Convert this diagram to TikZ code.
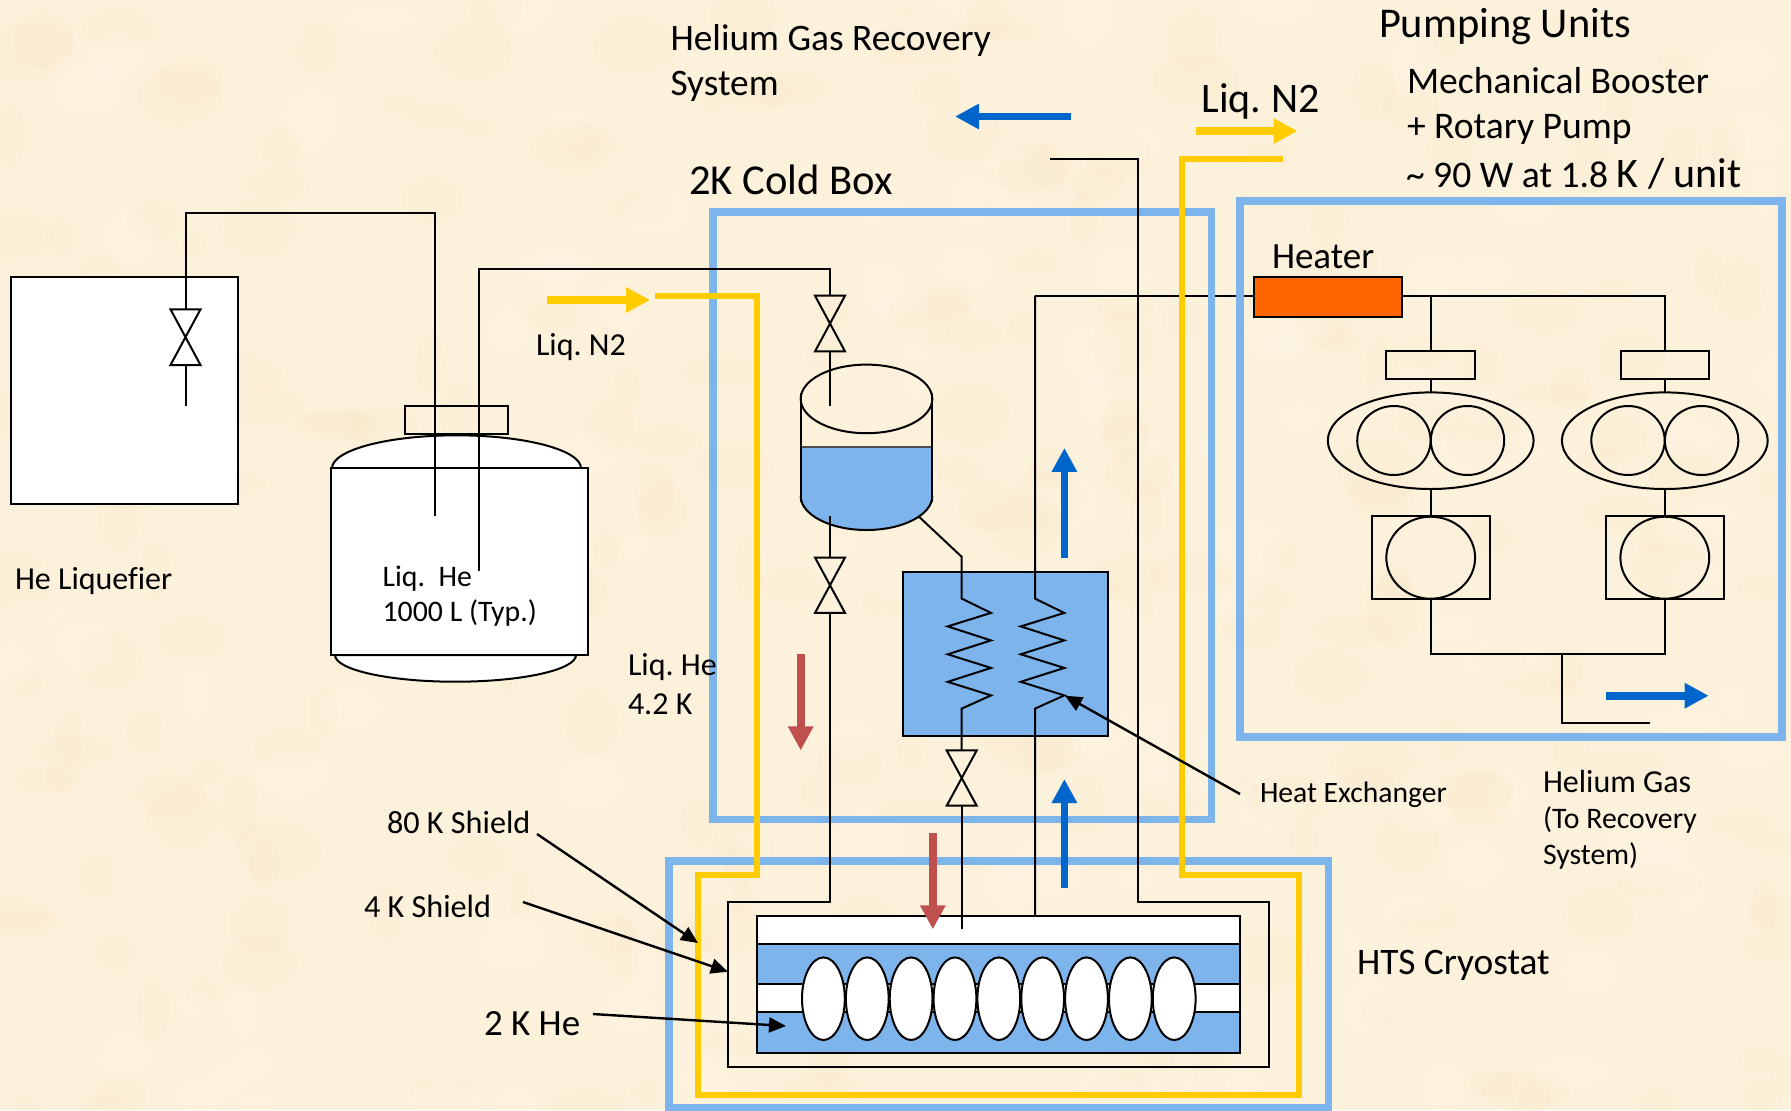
\documentclass[tikz,border=0pt]{standalone}
\usepackage{fontspec}
\setmainfont{Carlito}[Ligatures=NoCommon]
\usetikzlibrary{arrows.meta,shapes.geometric}
\definecolor{parch}{HTML}{FCF1DB}
\definecolor{blot}{HTML}{F8E4B8}
\definecolor{blotb}{HTML}{FFF8EC}
\definecolor{liqblue}{HTML}{7DB4EC}
\definecolor{flowblue}{HTML}{0066CC}
\definecolor{flowred}{HTML}{C0504D}
\definecolor{nyellow}{HTML}{FFCC00}
\definecolor{heat}{HTML}{FF6600}
\tikzset{
  pipe/.style={draw=black,line width=1pt,line join=miter},
  boxs/.style={draw=black,line width=1pt,rectangle,inner sep=0pt,outer sep=0pt},
  ell/.style={draw=black,line width=1pt,ellipse,inner sep=0pt,outer sep=0pt},
  frame/.style={draw=liqblue,line width=3.7pt},
  nline/.style={draw=nyellow,line width=3.1pt,line join=miter},
  flowb/.style={draw=flowblue,line width=3.9pt,-{Triangle[length=12pt,width=12pt,fill=flowblue]}},
  flowr/.style={draw=flowred,line width=3.9pt,-{Triangle[length=12pt,width=12pt,fill=flowred]}},
  flowy/.style={draw=nyellow,line width=3.9pt,-{Triangle[length=12pt,width=12pt,fill=nyellow]}},
  leader/.style={draw=black,line width=1.2pt,-{Triangle[length=8.5pt,width=7.5pt]}},
  lbl/.style={anchor=base west,inner sep=0pt,outer sep=0pt,align=left,text=black},
}
\newcommand{\fs}[1]{\fontsize{#1}{#1}\selectfont}
% valve: #1 centre x, #2 top y, #3 bottom y
\newcommand{\valve}[3]{\draw[pipe,line join=miter] (#1-15,#2) -- (#1+15,#2) -- (#1-15,#3) -- (#1+15,#3) -- cycle;}
\frenchspacing
\begin{document}
\begin{tikzpicture}[x=.5pt,y=-.5pt]
\useasboundingbox (0,0) rectangle (1791,1110);
\clip (0,0) rectangle (1791,1110);
\fill[parch] (0,0) rectangle (1791,1110);
\pgfmathsetseed{42}
\foreach \i in {1,...,260}{
  \pgfmathsetmacro{\bx}{rnd*1791}
  \pgfmathsetmacro{\by}{rnd*1110}
  \pgfmathsetmacro{\brx}{6+rnd*16}
  \pgfmathsetmacro{\bry}{5+rnd*12}
  \fill[blot,opacity=.1] (\bx,\by) ellipse [x radius=\brx pt,y radius=\bry pt];
}
\foreach \i in {1,...,120}{
  \pgfmathsetmacro{\bx}{rnd*1791}
  \pgfmathsetmacro{\by}{rnd*1110}
  \pgfmathsetmacro{\brx}{6+rnd*14}
  \pgfmathsetmacro{\bry}{5+rnd*10}
  \fill[blotb,opacity=.16] (\bx,\by) ellipse [x radius=\brx pt,y radius=\bry pt];
}

% ---- heater and its feed line, under the frames
\node (heater) [boxs,fill=heat,minimum width=73.7pt,minimum height=20.15pt] at (1328,296.85) {};
\coordinate (heatIn) at (1035,295.7);
\draw[pipe] (heatIn) -- (heater.west |- heatIn);

% ---- frames
\draw[frame] (713,212) rectangle (1211.5,819.6);
\draw[frame] (1240,201) rectangle (1782,737);
\draw[frame] (669,861) rectangle (1328.5,1108);

% ---- He liquefier
\node (liq) [boxs,fill=white,minimum width=113.5pt,minimum height=113.5pt] at (124.15,390.2) {};
% ---- storage tank
\draw[pipe,fill=white] (332,468.3) arc [start angle=180,end angle=0,x radius=62.25pt,y radius=16.5pt] -- cycle;
\draw[pipe,fill=white] (335,655) arc [start angle=180,end angle=360,x radius=60.25pt,y radius=13.35pt] -- cycle;
\node (tank) [boxs,fill=white,minimum width=128.7pt,minimum height=93.35pt] at (459.7,561.65) {};
\node (cap) [boxs,minimum width=51.35pt,minimum height=14.15pt] at (456.65,420.15) {};

\coordinate (liqtop) at (185.5,213.3);
\coordinate (tanktop) at (435,213.3);
\coordinate (dipA) at (435,516);
\coordinate (liqvT) at (185.5,309.3);
\coordinate (liqvB) at (185.5,365);
\coordinate (liqEnd) at (185.5,406);
\draw[pipe] (dipA) -- (tanktop) -- (liqtop) -- (liqvT);
\draw[pipe] (liqvB) -- (liqEnd);
\valve{185.5}{309.3}{365}

% ---- HX box
\node (hx) [boxs,fill=liqblue,minimum width=102.5pt,minimum height=82.3pt] at (1005.8,654.1) {};

% ---- helium vessel
\fill[liqblue] (800.7,447) -- (932.3,447) -- (932.3,496) arc [start angle=360,end angle=180,x radius=32.9pt,y radius=17pt] -- cycle;
\draw[black!70,line width=.7pt] (800.7,447) -- (932.3,447);
\draw[pipe] (800.7,393) -- (800.7,502);
\draw[pipe] (932.3,393) -- (932.3,502);
\draw[pipe] (800.7,496) arc [start angle=180,end angle=360,x radius=32.9pt,y radius=17pt];
\node (vtop) [ell,minimum width=65.8pt,minimum height=34.3pt] at (866.5,398.9) {};

% ---- liquid helium supply
\coordinate (dipB) at (478.8,571);
\coordinate (supTop) at (478.8,268.7);
\coordinate (supCorner) at (830,268.7);
\coordinate (v1T) at (830,295.7);
\coordinate (v1B) at (830,351.4);
\coordinate (v1End) at (830,405.7);
\draw[pipe] (dipB) -- (supTop) -- (supCorner) -- (v1T);
\draw[pipe] (v1B) -- (v1End);
\valve{830}{295.7}{351.4}

\coordinate (v2Start) at (830,516.4);
\coordinate (v2T) at (830,557.5);
\coordinate (v2B) at (830,612.9);
\valve{830}{557.5}{612.9}
\draw[pipe] (v2Start) -- (v2T);

% ---- cryostat
\node (tube) [boxs,fill=white,minimum width=241.75pt,minimum height=14pt] at (998.65,929.7) {};
\node (bath) [boxs,fill=liqblue,minimum width=241.75pt,minimum height=54.8pt] at (998.65,998.5) {};
\node (beam) [boxs,fill=white,minimum width=241.75pt,minimum height=14pt] at (998.65,998.3) {};
\foreach \n in {0,...,8}{
  \node (cav\n) [ell,fill=white,minimum width=21.4pt,minimum height=41.3pt] at ({823.4+43.85*\n},998.7) {};
}
\coordinate (shA) at (830,902);
\coordinate (shB) at (727.9,902);
\coordinate (shC) at (727.9,1066.7);
\coordinate (shD) at (1269.4,1066.7);
\coordinate (shE) at (1269.4,902);
\coordinate (shF) at (1137.7,902);
\coordinate (retTop) at (1137.7,158.8);
\coordinate (retEnd) at (1050,158.8);
\draw[pipe] (v2B) -- (shA) -- (shB) -- (shC) -- (shD) -- (shE) -- (shF) -- (retTop) -- (retEnd);

% ---- nitrogen lines
\coordinate (nA) at (654.5,295.8);
\coordinate (nB) at (1283,158.8);
\draw[nline] (nA) -- (756.9,295.8) -- (756.9,875) -- (698,875) -- (698,1095) -- (1299.3,1095) -- (1299.3,875) -- (1182.3,875) -- (1182.3,158.8) -- (nB);

% ---- heat exchanger coils
\coordinate (hxIn) at (919.3,517);
\coordinate (hxBend) at (961.7,556.8);
\draw[pipe] (hxIn) -- (hxBend) -- (961.7,598.6) -- (991,612.9) -- (947.7,626.4) -- (991,640.4) -- (947.7,654.3) -- (991,667.9) -- (947.7,681.8) -- (991,695.4) -- (961.7,708.6) -- (961.7,750.4);
\valve{961.7}{750.4}{805.7}
\coordinate (pipeCend) at (961.7,929.3);
\draw[pipe] (961.7,805.7) -- (pipeCend);
\coordinate (heatLow) at (1035,915.7);
\draw[pipe] (heatLow) -- (1035,708.6) -- (1064.3,695.4) -- (1020.7,681.8) -- (1064.3,667.9) -- (1020.7,654.3) -- (1064.3,640.4) -- (1020.7,626.4) -- (1064.3,612.9) -- (1035,598.6) -- (heatIn);

% ---- pump units
\coordinate (busR) at (1664.7,296);
\draw[pipe] (heater.east |- busR) -- (busR) -- (1664.7,350.7);
\draw[pipe] (1430.7,296) -- (1430.7,350.7);

\foreach \dx/\nm in {0/a,234.1/b}{
  \node (fil\nm) [boxs,minimum width=44.3pt,minimum height=14pt] at ({1430.7+\dx},364.7) {};
  \node (roots\nm) [ell,minimum width=102.9pt,minimum height=48.3pt] at ({1430.7+\dx},440.7) {};
  \node (lobeA\nm) [ell,minimum width=36.7pt,minimum height=34.5pt] at ({1393.9+\dx},440.5) {};
  \node (lobeB\nm) [ell,minimum width=36.7pt,minimum height=34.5pt] at ({1467.5+\dx},440.5) {};
  \node (rotbox\nm) [boxs,minimum width=59pt,minimum height=41.5pt] at ({1430.7+\dx},557.7) {};
  \node (rotor\nm) [ell,minimum width=44.4pt,minimum height=41pt] at ({1430.7+\dx},557.7) {};
  \draw[pipe] (fil\nm.south) -- (roots\nm.north);
  \draw[pipe] (roots\nm.south) -- (rotbox\nm.north);
}
\coordinate (exA) at (1430.7,654.3);
\coordinate (exB) at (1664.8,654.3);
\coordinate (exJ) at (1562.4,654.3);
\coordinate (exK) at (1562.4,722.7);
\coordinate (exL) at (1650.4,722.7);
\draw[pipe] (rotboxa.south) -- (exA) -- (exB) -- (rotboxb.south);
\draw[pipe] (exJ) -- (exK) -- (exL);

% ---- flow arrows
\coordinate (f1a) at (1071,116.5); \coordinate (f1b) at (955,116.5);
\coordinate (f2a) at (1196,131); \coordinate (f2b) at (1297.5,131);
\coordinate (f3a) at (547,300); \coordinate (f3b) at (650,300);
\coordinate (f4a) at (1064.4,557.5); \coordinate (f4b) at (1064.4,447.9);
\coordinate (f5a) at (1064.4,888); \coordinate (f5b) at (1064.4,779);
\coordinate (f6a) at (800.7,654.3); \coordinate (f6b) at (800.7,750.4);
\coordinate (f7a) at (932.8,833.3); \coordinate (f7b) at (932.8,929.3);
\coordinate (f8a) at (1606.4,695.7); \coordinate (f8b) at (1708.7,695.7);
\draw[flowb] (f1a) -- (f1b);
\draw[flowy] (f2a) -- (f2b);
\draw[flowy] (f3a) -- (f3b);
\draw[flowb] (f4a) -- (f4b);
\draw[flowb] (f5a) -- (f5b);
\draw[flowr] (f6a) -- (f6b);
\draw[flowr] (f7a) -- (f7b);
\draw[flowb] (f8a) -- (f8b);

% ---- leaders
\coordinate (l1a) at (1240,794); \coordinate (l1b) at (1065,695.7);
\coordinate (l2a) at (537,834); \coordinate (l2b) at (698,943);
\coordinate (l3a) at (523,902); \coordinate (l3b) at (727.9,971.7);
\coordinate (l4a) at (593,1014); \coordinate (l4b) at (786,1026);
\draw[leader] (l1a) -- (l1b);
\draw[leader] (l2a) -- (l2b);
\draw[leader] (l3a) -- (l3b);
\draw[leader] (l4a) -- (l4b);

% ---- text
\node (tPump) [lbl,font=\fs{21.2}] at (1379,37) {Pumping Units};
\node (tMech) [lbl,font=\fs{18.8}] at (1407,93) {Mechanical Booster};
\node (tRot) [lbl,font=\fs{18.8}] at (1407,138) {+ Rotary Pump};
\node (tNinety) [lbl,font=\fs{18.8}] at (1406,187) {\textasciitilde{} 90 W at 1.8 {\fs{21}K / unit}};
\node (tHeRec) [lbl,font=\fs{18.7}] at (670.5,50) {Helium Gas Recovery};
\node (tSys) [lbl,font=\fs{18.7}] at (670.5,95) {System};
\node (tN2a) [lbl,font=\fs{21}] at (1201.6,112) {Liq. N2};
\node (tCold) [lbl,font=\fs{21.3}] at (689,194) {2K Cold Box};
\node (tHeat) [lbl,font=\fs{18.5}] at (1272,268) {Heater};
\node (tN2b) [lbl,font=\fs{16}] at (536,355) {Liq. N2};
\node (tLHe) [lbl,font=\fs{16}] at (628,675) {Liq. He};
\node (tLHeT) [lbl,font=\fs{16}] at (628,714) {4.2 K};
\node (tHX) [lbl,font=\fs{14.8}] at (1260,802) {Heat Exchanger};
\node (tHG) [lbl,font=\fs{16}] at (1543,792) {Helium Gas};
\node (tTR) [lbl,font=\fs{14.9}] at (1543,828) {(To Recovery};
\node (tSy2) [lbl,font=\fs{14.9}] at (1543,864) {System)};
\node (tHTS) [lbl,font=\fs{18.7}] at (1357,974) {HTS Cryostat};
\node (t80) [lbl,font=\fs{16.1}] at (387,833) {80 K Shield};
\node (t4) [lbl,font=\fs{16.1}] at (364,917) {4 K Shield};
\node (t2) [lbl,font=\fs{18.5}] at (484,1035) {2 K He};
\node (tLq) [lbl,font=\fs{14.9}] at (382.6,586) {Liq.\ \ He};
\node (tTyp) [lbl,font=\fs{14.9}] at (382.6,621) {1000 L (Typ.)};
\node (tLf) [lbl,font=\fs{16}] at (15,589) {He Liquefier};
\end{tikzpicture}
\end{document}
